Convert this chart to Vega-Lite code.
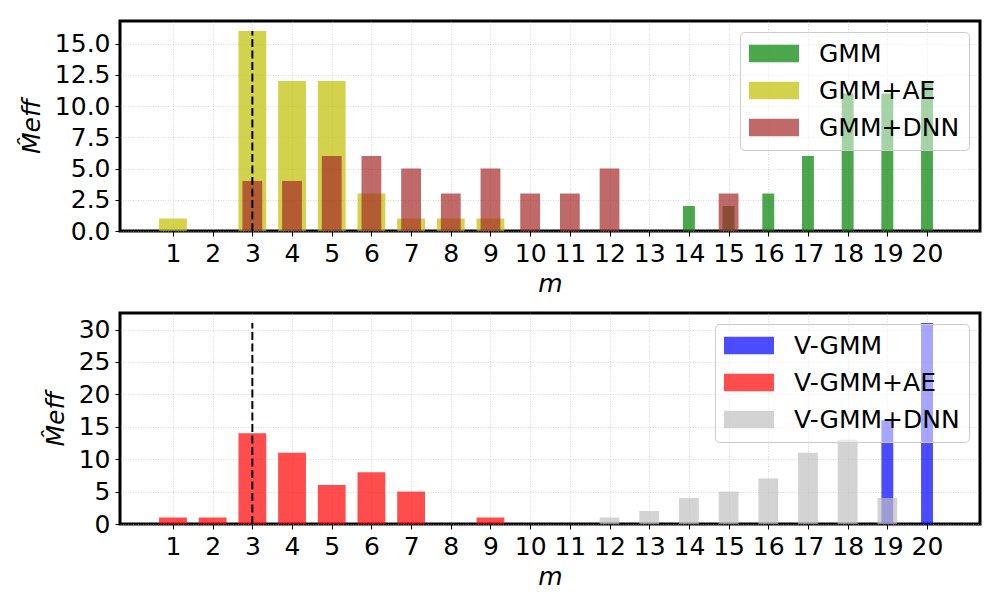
{
  "$schema": "https://vega.github.io/schema/vega-lite/v6.json",
  "padding": {"left": 17, "top": 19, "right": 5, "bottom": 5},
  "background": "white",
  "config": {
    "font": "DejaVu Sans",
    "view": {"stroke": "black", "strokeWidth": 3},
    "axis": {
      "labelFont": "DejaVu Sans", "labelFontSize": 25, "labelColor": "black",
      "titleFont": "DejaVu Sans", "titleFontSize": 25, "titleColor": "black",
      "titleFontWeight": "normal", "titleFontStyle": "italic",
      "domain": false, "tickColor": "black", "tickSize": 5, "tickWidth": 1,
      "labelPadding": 5, "grid": true, "gridColor": "#b0b0b0", "gridOpacity": 0.6,
      "gridDash": [1, 1.5], "gridWidth": 0.8, "labelOverlap": false
    },
    "legend": {
      "labelFont": "DejaVu Sans", "labelFontSize": 25, "labelColor": "black", "labelLimit": 400,
      "fillColor": "rgba(255,255,255,0.5)", "strokeColor": "#cccccc", "cornerRadius": 4,
      "padding": 9, "rowPadding": 11, "orient": "top-right", "offset": 11,
      "symbolType": "M-2,-0.7H2V0.7H-2Z", "symbolSize": 625, "symbolOffset": 12.5,
      "labelOffset": 32.5, "symbolOpacity": 0.7, "symbolStrokeWidth": 0, "title": null
    }
  },
  "datasets": {
    "top": [
      {"m": 14, "v": 2, "series": "GMM"},
      {"m": 15, "v": 2, "series": "GMM"},
      {"m": 16, "v": 3, "series": "GMM"},
      {"m": 17, "v": 6, "series": "GMM"},
      {"m": 18, "v": 11, "series": "GMM"},
      {"m": 19, "v": 11, "series": "GMM"},
      {"m": 20, "v": 12, "series": "GMM"},
      {"m": 1, "v": 1, "series": "GMM+AE"},
      {"m": 3, "v": 16, "series": "GMM+AE"},
      {"m": 4, "v": 12, "series": "GMM+AE"},
      {"m": 5, "v": 12, "series": "GMM+AE"},
      {"m": 6, "v": 3, "series": "GMM+AE"},
      {"m": 7, "v": 1, "series": "GMM+AE"},
      {"m": 8, "v": 1, "series": "GMM+AE"},
      {"m": 9, "v": 1, "series": "GMM+AE"},
      {"m": 3, "v": 4, "series": "GMM+DNN"},
      {"m": 4, "v": 4, "series": "GMM+DNN"},
      {"m": 5, "v": 6, "series": "GMM+DNN"},
      {"m": 6, "v": 6, "series": "GMM+DNN"},
      {"m": 7, "v": 5, "series": "GMM+DNN"},
      {"m": 8, "v": 3, "series": "GMM+DNN"},
      {"m": 9, "v": 5, "series": "GMM+DNN"},
      {"m": 10, "v": 3, "series": "GMM+DNN"},
      {"m": 11, "v": 3, "series": "GMM+DNN"},
      {"m": 12, "v": 5, "series": "GMM+DNN"},
      {"m": 15, "v": 3, "series": "GMM+DNN"}
    ],
    "bottom": [
      {"m": 19, "v": 16, "series": "V-GMM"},
      {"m": 20, "v": 31, "series": "V-GMM"},
      {"m": 1, "v": 1, "series": "V-GMM+AE"},
      {"m": 2, "v": 1, "series": "V-GMM+AE"},
      {"m": 3, "v": 14, "series": "V-GMM+AE"},
      {"m": 4, "v": 11, "series": "V-GMM+AE"},
      {"m": 5, "v": 6, "series": "V-GMM+AE"},
      {"m": 6, "v": 8, "series": "V-GMM+AE"},
      {"m": 7, "v": 5, "series": "V-GMM+AE"},
      {"m": 9, "v": 1, "series": "V-GMM+AE"},
      {"m": 12, "v": 1, "series": "V-GMM+DNN"},
      {"m": 13, "v": 2, "series": "V-GMM+DNN"},
      {"m": 14, "v": 4, "series": "V-GMM+DNN"},
      {"m": 15, "v": 5, "series": "V-GMM+DNN"},
      {"m": 16, "v": 7, "series": "V-GMM+DNN"},
      {"m": 17, "v": 11, "series": "V-GMM+DNN"},
      {"m": 18, "v": 13, "series": "V-GMM+DNN"},
      {"m": 19, "v": 4, "series": "V-GMM+DNN"}
    ],
    "topline": [{"m": 3, "v": 0, "vtop": 16}],
    "bottomline": [{"m": 3, "v": 0, "vtop": 31}]
  },
  "vconcat": [
    {
      "width": 860,
      "height": 210,
      "data": {"name": "top"},
      "encoding": {
        "x": {"field": "m", "type": "quantitative", "title": "m",
              "scale": {"domain": [-0.335, 21.335], "nice": false, "zero": false, "padding": 0},
              "axis": {"values": [1,2,3,4,5,6,7,8,9,10,11,12,13,14,15,16,17,18,19,20], "format": "d", "titlePadding": 5}},
        "y": {"field": "v", "type": "quantitative", "stack": null, "title": "M̂eff",
              "scale": {"domain": [0, 16.8], "nice": false, "padding": 0},
              "axis": {"values": [0, 2.5, 5, 7.5, 10, 12.5, 15], "format": ".1f", "titlePadding": 10}}
      },
      "layer": [
        {
          "transform": [{"filter": "datum.series == 'GMM'"}],
          "mark": {"type": "bar", "opacity": 0.7, "size": 11.9},
          "encoding": {
            "color": {"field": "series", "type": "nominal",
                      "scale": {"domain": ["GMM", "GMM+AE", "GMM+DNN"], "range": ["#008000", "#bfbf00", "#a52a2a"]}}
          }
        },
        {
          "transform": [{"filter": "datum.series == 'GMM+AE'"}],
          "mark": {"type": "bar", "opacity": 0.7, "size": 27.8},
          "encoding": {"color": {"field": "series", "type": "nominal"}}
        },
        {
          "transform": [{"filter": "datum.series == 'GMM+DNN'"}],
          "mark": {"type": "bar", "opacity": 0.7, "size": 19.8},
          "encoding": {"color": {"field": "series", "type": "nominal"}}
        },
        {
          "data": {"name": "topline"},
          "mark": {"type": "rule", "color": "black", "strokeWidth": 2, "strokeDash": [8, 3.5]},
          "encoding": {"y2": {"field": "vtop"}}
        }
      ]
    },
    {
      "width": 860,
      "height": 211,
      "data": {"name": "bottom"},
      "encoding": {
        "x": {"field": "m", "type": "quantitative", "title": "m",
              "scale": {"domain": [-0.335, 21.335], "nice": false, "zero": false, "padding": 0},
              "axis": {"values": [1,2,3,4,5,6,7,8,9,10,11,12,13,14,15,16,17,18,19,20], "format": "d", "titlePadding": 5}},
        "y": {"field": "v", "type": "quantitative", "stack": null, "title": "M̂eff",
              "scale": {"domain": [0, 32.55], "nice": false, "padding": 0},
              "axis": {"values": [0, 5, 10, 15, 20, 25, 30], "format": "d", "titlePadding": 10}}
      },
      "layer": [
        {
          "transform": [{"filter": "datum.series == 'V-GMM'"}],
          "mark": {"type": "bar", "opacity": 0.7, "size": 11.9},
          "encoding": {
            "color": {"field": "series", "type": "nominal",
                      "scale": {"domain": ["V-GMM", "V-GMM+AE", "V-GMM+DNN"], "range": ["#0000ff", "#ff0000", "#c0c0c0"]}}
          }
        },
        {
          "transform": [{"filter": "datum.series == 'V-GMM+AE'"}],
          "mark": {"type": "bar", "opacity": 0.7, "size": 27.8},
          "encoding": {"color": {"field": "series", "type": "nominal"}}
        },
        {
          "transform": [{"filter": "datum.series == 'V-GMM+DNN'"}],
          "mark": {"type": "bar", "opacity": 0.7, "size": 19.8},
          "encoding": {"color": {"field": "series", "type": "nominal"}}
        },
        {
          "data": {"name": "bottomline"},
          "mark": {"type": "rule", "color": "black", "strokeWidth": 2, "strokeDash": [8, 3.5]},
          "encoding": {"y2": {"field": "vtop"}}
        }
      ]
    }
  ],
  "spacing": 82,
  "bounds": "flush",
  "resolve": {"scale": {"color": "independent", "y": "independent"}, "legend": {"color": "independent"}}
}
